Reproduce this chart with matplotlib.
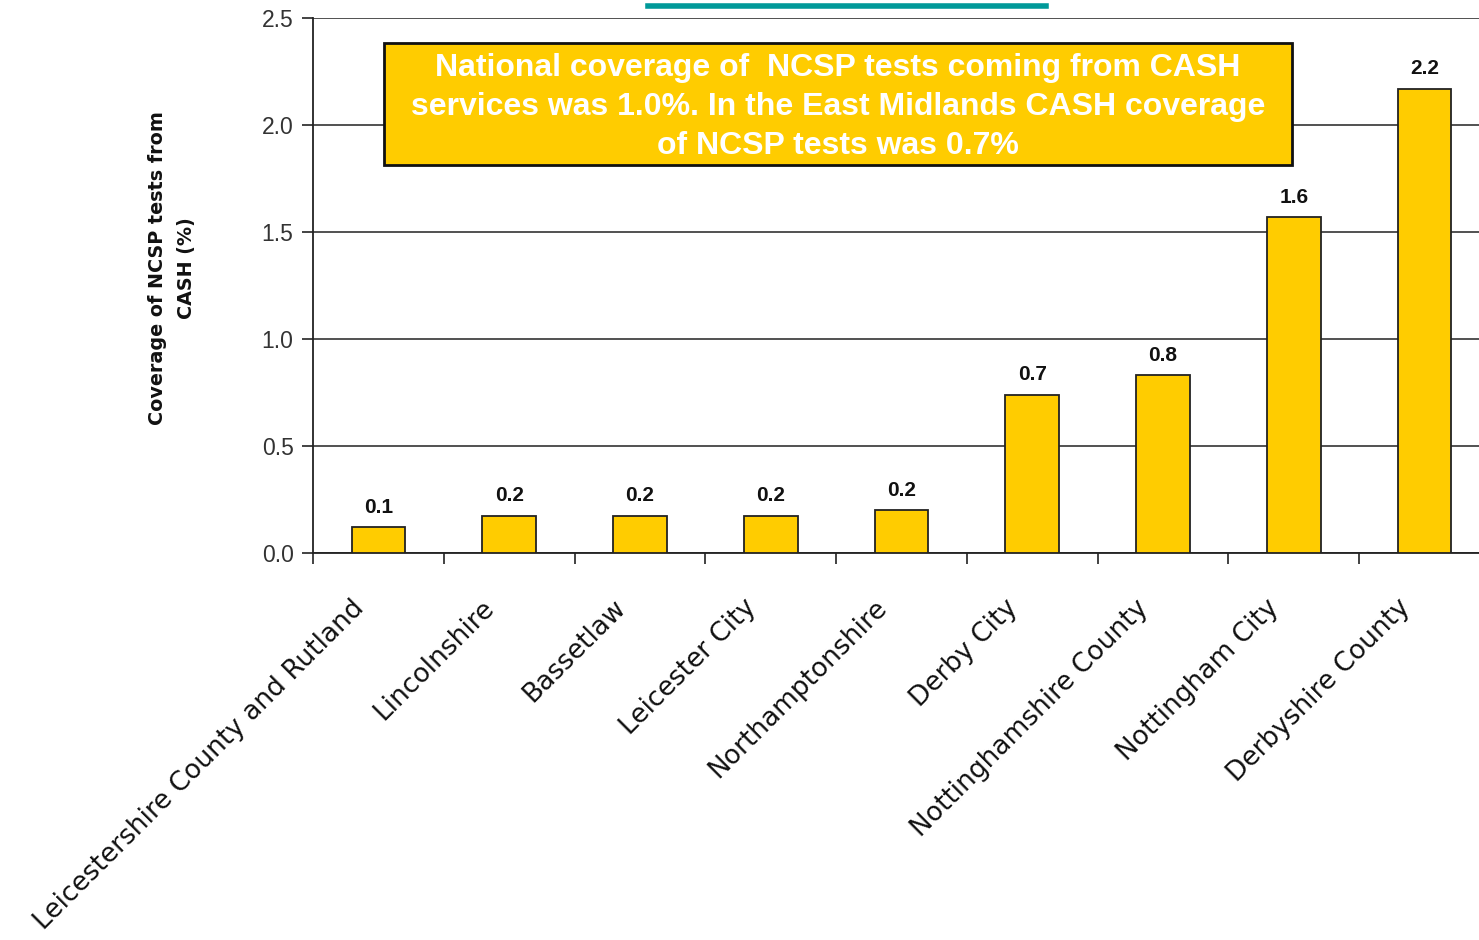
import matplotlib.pyplot as plt
import matplotlib.transforms as mtransforms
from matplotlib.lines import Line2D
from matplotlib.patches import Rectangle

areas = ['Leicestershire County and Rutland', 'Lincolnshire', 'Bassetlaw',
         'Leicester City', 'Northamptonshire', 'Derby City',
         'Nottinghamshire County', 'Nottingham City', 'Derbyshire County']
coverage = [0.12, 0.175, 0.175, 0.175, 0.20, 0.74, 0.83, 1.57, 2.17]
value_labels = ['0.1', '0.2', '0.2', '0.2', '0.2', '0.7', '0.8', '1.6', '2.2']
yticks = [0.0, 0.5, 1.0, 1.5, 2.0, 2.5]

note = ("National coverage of  NCSP tests coming from CASH\n"
        "services was 1.0%. In the East Midlands CASH coverage\n"
        "of NCSP tests was 0.7%")

GOLD = '#FFCC00'


def main():
    fig = plt.figure(figsize=(14.79, 9.40), dpi=100)
    ax = fig.add_axes([313 / 1479, 387 / 940, 1177 / 1479, 535 / 940])

    x = list(range(len(areas)))
    ax.bar(x, coverage, width=0.41, color=GOLD, edgecolor='#222222',
           linewidth=1.3, zorder=3)

    for xi, v, lab in zip(x, coverage, value_labels):
        ax.annotate(lab, (xi, v), xytext=(0, 7.5), textcoords='offset points',
                    ha='center', va='bottom', fontsize=15, fontweight='bold',
                    family='Liberation Sans', color='#111111')

    ax.set_xlim(-0.5, len(areas) - 0.5)
    ax.set_ylim(0, 2.5)
    ax.set_yticks(yticks)
    ax.set_yticklabels([f'{t:.1f}' for t in yticks], family='Liberation Sans',
                       fontsize=16.5, color='#333333')
    ax.yaxis.grid(True, color='#222222', linewidth=1.1, zorder=0)
    ax.set_axisbelow(True)

    # ticks sit between categories, labels under the bars
    ax.set_xticks([i - 0.5 for i in x])
    ax.set_xticklabels([])
    ax.tick_params(axis='x', length=8, width=1.2, color='#222222')
    ax.tick_params(axis='y', length=8, width=1.2, color='#222222', pad=6)

    base = ax.get_xaxis_transform()
    shift = mtransforms.ScaledTranslation(-20 / 72, -30 / 72, fig.dpi_scale_trans)
    for xi, name in zip(x, areas):
        ax.text(xi, 0, name, transform=base + shift, rotation=45,
                rotation_mode='anchor', ha='right', va='top', fontsize=19,
                family='DejaVu Sans', color='#111111', clip_on=False)

    for side in ('top', 'right'):
        ax.spines[side].set_visible(False)
    for side in ('left', 'bottom'):
        ax.spines[side].set_color('#222222')
        ax.spines[side].set_linewidth(1.3)

    fig.text(172 / 1479, 1 - 268 / 940, 'Coverage of NCSP tests from\nCASH (%)',
             rotation=90, ha='center', va='center', fontsize=13.8,
             fontweight='bold', family='DejaVu Sans', color='#111111',
             linespacing=1.65)

    fig.add_artist(Rectangle((384 / 1479, 1 - 165 / 940), 908 / 1479, 122 / 940,
                             transform=fig.transFigure, facecolor=GOLD,
                             edgecolor='#111111', linewidth=2))
    fig.text(838 / 1479, 1 - 107 / 940, note, ha='center', va='center',
             fontsize=23, fontweight='bold', family='Liberation Sans',
             color='white', linespacing=1.37)

    fig.add_artist(Line2D([648 / 1479, 1046 / 1479], [1 - 6 / 940, 1 - 6 / 940],
                          color='#009999', linewidth=4,
                          transform=fig.transFigure))

    fig.savefig('out.png', dpi=100)


if __name__ == '__main__':
    main()
